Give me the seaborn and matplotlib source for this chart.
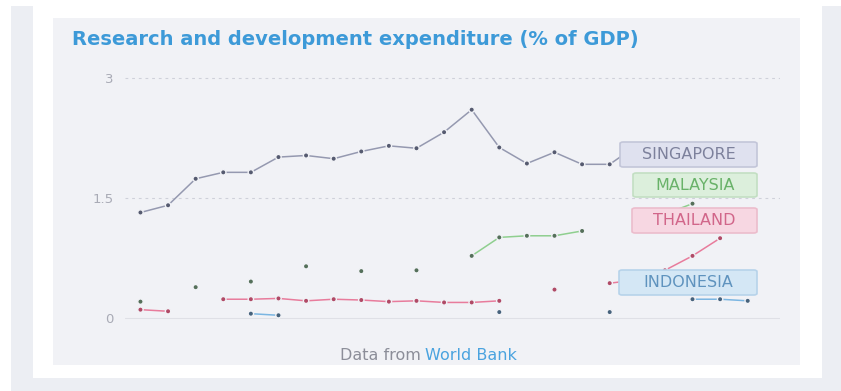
import matplotlib
matplotlib.use("Agg")
import matplotlib.pyplot as plt
from matplotlib.patches import Rectangle, FancyBboxPatch
import numpy as np
import pandas as pd
import seaborn as sns

nan = np.nan
years = list(range(1996, 2019))
singapore = [1.32, 1.41, 1.74, 1.82, 1.82, 2.01, 2.03, 1.99, 2.08, 2.15, 2.12, 2.32,
             2.60, 2.13, 1.93, 2.07, 1.92, 1.92, 2.16, nan, nan, nan, nan]
malaysia = [0.21, nan, 0.39, nan, 0.46, nan, 0.65, nan, 0.59, nan, 0.60, nan,
            0.78, 1.01, 1.03, 1.03, 1.09, nan, nan, 1.30, 1.43, nan, nan]
thailand = [0.11, 0.09, nan, 0.24, 0.24, 0.25, 0.22, 0.24, 0.23, 0.21, 0.22, 0.20,
            0.20, 0.22, nan, 0.36, nan, 0.44, 0.48, 0.60, 0.78, 1.00, nan]
indonesia = [nan, nan, nan, nan, 0.06, 0.04, nan, nan, nan, nan, nan, nan,
             nan, 0.08, nan, nan, nan, 0.08, nan, nan, 0.24, 0.24, 0.22]

countries = ["Singapore", "Malaysia", "Thailand", "Indonesia"]
series = [singapore, malaysia, thailand, indonesia]
y_ticks = [0, 1.5, 3]
y_tick_labels = ["0", "1.5", "3"]
x_ticks = [2000, 2005, 2010, 2015]

line_colors = {"Singapore": "#9599b0", "Malaysia": "#8fcf8f",
               "Thailand": "#e87c9c", "Indonesia": "#7bb6e2"}
dot_colors = {"Singapore": "#565b70", "Malaysia": "#55705a",
              "Thailand": "#b04a66", "Indonesia": "#46627c"}

rows = []
for name, vals in zip(countries, series):
    gap = 0
    for yr, v in zip(years, vals):
        if np.isnan(v):
            gap += 1
            continue
        rows.append({"year": yr, "value": v, "country": name, "seg": f"{name}{gap}"})
df = pd.DataFrame(rows)

W, H = 841, 391
page = "#eceef3"
panel = "#f1f2f6"

sns.set_style("white")
fig = plt.figure(figsize=(W / 100, H / 100), dpi=100, facecolor="white")


def fx(px):
    return px / W


def fy(py):
    return 1 - py / H


def rect(x0, y0, x1, y1, color, z):
    fig.patches.append(Rectangle((fx(x0), fy(y1)), fx(x1) - fx(x0), fy(y0) - fy(y1),
                                 transform=fig.transFigure, facecolor=color,
                                 edgecolor="none", zorder=z))


rect(11, 6, 841, 391, page, -3)
rect(33, 6, 822, 378, "white", -2)
rect(53, 18, 800, 365, panel, -1)

ax = fig.add_axes([fx(125), fy(322), fx(780) - fx(125), fy(60) - fy(322)])
ax.set_facecolor("none")

sns.lineplot(data=df, x="year", y="value", hue="country", units="seg", estimator=None,
             palette=line_colors, legend=False, linewidth=1.1, ax=ax, zorder=2)
sns.scatterplot(data=df, x="year", y="value", hue="country", palette=dot_colors,
                s=15, edgecolor=panel, linewidth=1.0, legend=False, ax=ax, zorder=3)

ax.set_xlim(1995.44, 2019.17)
ax.set_ylim(-0.0436, 3.219)
ax.set_xlabel("")
ax.set_ylabel("")
for s in ax.spines.values():
    s.set_visible(False)

for yv in [1.5, 3]:
    ax.axhline(yv, color="#cfd1da", lw=0.8, ls=(0, (2.5, 3.5)), zorder=1)
ax.axhline(0, color="#dfe0e6", lw=0.8, zorder=1)

ax.set_yticks(y_ticks)
ax.set_yticklabels(y_tick_labels)
ax.set_xticks(x_ticks)
ax.set_xticklabels([])
ax.tick_params(axis="y", length=0, pad=8, labelsize=9.5, labelcolor="#a9abb6")
ax.tick_params(axis="x", length=3, width=0.8, color="#d3d5dc", direction="out")

labels = [
    ("SINGAPORE", 620, 142, 757, 167, "#dfe1ef", "#c3c6d9", "#7d819c"),
    ("MALAYSIA", 633, 173, 757, 197, "#dcefdc", "#c3dfc3", "#69b269"),
    ("THAILAND", 632, 208, 757, 233, "#f7d7e2", "#ecbdcc", "#d1668a"),
    ("INDONESIA", 619, 270, 757, 295, "#d4e7f5", "#b7d3ea", "#5f93be"),
]
for text, x0, y0, x1, y1, fill, edge, tc in labels:
    box = FancyBboxPatch((fx(x0), fy(y1)), fx(x1) - fx(x0), fy(y0) - fy(y1),
                         boxstyle="round,pad=0,rounding_size=0.004",
                         transform=fig.transFigure, facecolor=fill, edgecolor=edge,
                         linewidth=1.2, zorder=5, clip_on=False)
    ax.add_patch(box)
    ax.text(fx((x0 + x1) / 2), fy((y0 + y1) / 2), text, transform=fig.transFigure,
            ha="center", va="center", fontsize=11.5, color=tc, zorder=6)

fig.text(fx(72), fy(45), "Research and development expenditure (% of GDP)",
         ha="left", va="baseline", fontsize=14, fontweight="bold", color="#3d9ad8")
fig.text(fx(421), fy(355), "Data from", ha="right", va="center", fontsize=11.5,
         color="#8c8e99")
fig.text(fx(425), fy(355), "World Bank", ha="left", va="center", fontsize=11.5,
         color="#4aa3df")

fig.savefig("out.png", dpi=100, facecolor=fig.get_facecolor())
